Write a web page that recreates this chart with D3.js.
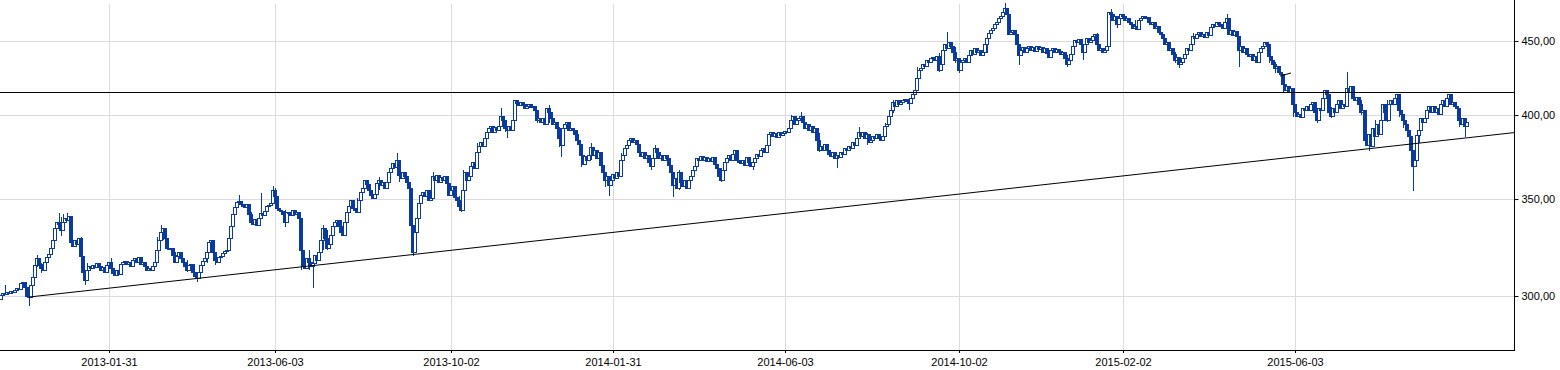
<!DOCTYPE html>
<html>
<head>
<meta charset="utf-8">
<script src="https://cdn.jsdelivr.net/npm/d3@7"></script>
<style>
  body { margin: 0; background: #fff; }
  svg { display: block; }
</style>
</head>
<body>
<svg id="chart" width="1560" height="370"></svg>
<script>
// daily closes, one per trading day (index based x axis)
var closes = [
  300.5,301.4,301.0,301.9,301.4,302.4,301.9,302.9,303.8,303.4,306.3,306.8,304.3,300.0,299.6,
  305.3,309.2,315.2,318.7,315.7,313.7,312.7,316.7,319.2,320.7,323.8,327.9,334.3,337.5,336.4,
  333.2,337.5,339.6,338.5,340.7,326.9,324.8,327.9,325.9,329.0,319.7,311.7,307.7,312.7,314.7,
  313.7,315.2,314.2,316.2,314.7,312.7,314.2,311.7,315.2,316.7,313.7,311.2,310.2,312.7,310.7,
  315.7,316.7,317.2,315.7,316.7,314.7,317.7,318.7,316.7,319.2,315.7,316.7,314.7,312.7,313.7,
  312.7,314.7,316.7,322.8,327.9,332.1,334.3,329.0,323.8,323.3,323.8,320.2,316.7,319.7,321.8,
  318.7,316.7,314.7,312.7,315.2,315.7,311.7,309.7,308.7,311.7,315.2,317.2,318.7,321.8,326.9,
  327.9,321.8,317.7,316.7,319.2,319.7,321.3,322.3,322.8,329.0,335.4,341.8,345.6,348.4,348.9,
  347.2,346.1,345.6,347.2,341.8,337.5,336.4,339.0,335.9,339.6,342.3,341.3,343.4,346.1,346.7,
  347.8,355.1,351.7,345.1,344.0,343.4,341.8,337.5,342.9,342.3,341.3,344.0,341.8,342.9,339.6,
  322.8,314.7,313.7,318.7,316.7,314.7,316.2,320.2,317.7,321.8,327.9,334.3,329.0,323.8,325.9,
  330.6,335.4,337.5,338.5,335.4,332.1,330.6,337.5,342.9,346.1,349.5,345.1,344.0,342.9,349.5,354.0,356.2,360.8,358.5,355.1,
  352.3,350.6,352.9,359.1,360.8,357.9,359.6,356.2,359.6,365.3,367.7,370.6,368.3,372.4,363.6,
  362.0,365.3,363.0,359.6,356.2,335.9,321.8,332.1,339.6,347.8,352.3,354.0,351.7,355.1,349.5,
  350.6,363.0,360.8,363.6,359.6,362.5,360.8,363.0,359.1,352.3,355.1,357.4,351.2,349.5,346.1,
  344.0,355.1,365.3,360.8,363.0,368.9,371.2,367.7,377.2,380.8,383.3,380.8,385.7,389.4,391.9,
  393.1,389.4,392.5,390.6,393.1,399.4,396.9,391.9,390.6,393.1,390.6,396.9,409.7,407.7,406.4,
  408.4,407.1,404.5,405.8,407.1,405.1,405.8,403.2,396.9,398.1,395.6,398.1,394.4,404.5,401.9,
  398.1,394.4,395.6,391.9,385.7,381.4,391.9,394.4,395.6,390.6,391.9,390.6,388.1,384.5,382.1,
  375.4,370.1,374.8,372.4,375.4,380.2,375.4,378.4,373.6,377.2,369.5,365.3,360.8,363.0,357.9,
  360.8,364.2,362.0,365.3,363.0,372.4,375.4,379.6,381.4,384.5,385.7,383.3,384.5,382.1,377.2,
  374.8,377.2,373.6,375.4,371.2,368.9,373.6,379.6,377.2,373.6,375.4,372.4,375.4,373.6,369.5,
  365.3,357.9,362.0,356.2,365.3,359.6,357.4,360.8,356.2,360.8,363.0,366.5,368.9,373.6,372.4,
  374.8,372.4,374.2,371.8,373.6,371.8,374.2,370.1,367.7,363.0,360.8,366.5,371.2,373.6,375.4,372.4,376.0,378.4,372.4,371.2,
  370.7,372.4,369.5,374.2,371.2,368.9,371.2,373.6,376.0,374.8,378.4,379.6,377.2,381.4,388.1,
  389.4,386.9,388.7,386.3,389.4,387.5,388.7,390.0,389.4,391.9,396.9,399.4,394.4,396.9,398.1,
  399.4,395.6,391.9,394.4,390.6,393.1,389.4,391.9,384.5,378.4,380.8,378.4,382.1,378.4,376.0,
  374.8,377.2,373.6,375.4,374.2,377.2,376.0,379.6,378.4,380.8,379.6,383.3,381.4,385.7,389.4,
  386.9,389.4,385.7,388.1,383.3,384.5,386.9,385.7,388.1,386.3,384.5,386.9,393.1,394.4,399.4,
  403.2,408.4,405.8,409.7,407.1,408.4,409.7,410.4,409.1,407.7,411.0,413.6,416.3,424.3,429.7,
  431.1,433.9,432.5,436.6,435.2,438.0,438.7,436.6,439.4,429.7,433.9,443.6,447.9,445.0,449.3,
  446.4,442.2,436.6,438.0,429.7,435.2,436.6,438.0,435.2,440.1,443.6,440.8,445.0,442.2,443.6,
  440.1,442.2,447.9,452.2,455.7,457.9,459.3,462.3,463.8,466.8,468.2,471.2,474.2,469.7,455.0,
  456.5,457.9,455.0,447.9,440.1,443.6,445.7,442.2,445.0,446.4,443.6,445.7,442.9,446.4,444.3,
  445.7,442.2,445.0,441.5,438.7,443.6,445.0,442.2,444.3,442.9,440.8,442.2,438.0,433.9,436.6,
  440.8,446.4,450.7,449.3,451.4,447.9,442.2,447.9,452.2,449.3,450.7,453.6,455.0,447.9,443.6,
  445.0,442.2,443.6,446.4,471.2,469.7,465.3,468.2,462.3,466.8,469.7,468.2,465.3,466.8,463.8,
  462.3,459.3,460.8,458.6,465.3,466.8,468.2,466.8,467.5,463.8,462.3,463.8,459.3,460.8,456.5,
  455.0,452.2,447.9,449.3,443.6,445.0,440.8,436.6,438.7,433.9,435.2,438.0,440.8,445.0,443.6,
  447.9,453.6,452.2,455.0,456.5,453.6,455.0,452.9,456.5,454.3,460.1,462.3,460.8,463.8,462.3,
  460.8,459.3,463.8,466.8,455.0,457.9,454.3,457.2,453.6,443.6,446.4,442.2,445.0,440.8,439.4,
  440.8,436.6,439.4,435.2,442.2,445.0,446.4,449.3,447.9,439.4,436.6,433.9,431.1,432.5,428.3,
  427.0,420.3,416.3,418.9,415.0,417.6,407.1,401.9,399.4,400.6,398.7,404.5,403.2,405.8,403.2,
  407.1,408.4,401.9,396.9,404.5,403.2,411.0,416.3,413.6,401.9,399.4,404.5,401.9,407.1,409.7,
  404.5,407.1,405.8,417.6,415.0,418.9,411.0,409.7,411.7,407.1,401.9,403.2,384.5,381.4,388.1,
  380.8,391.9,386.9,394.4,388.1,396.9,407.1,401.9,396.9,407.1,409.7,407.1,411.0,413.6,403.2,
  400.6,396.9,394.4,390.6,386.9,378.4,368.9,372.4,387.5,390.6,398.1,395.6,398.1,403.2,405.8,
  401.9,405.8,401.9,404.5,400.6,407.1,409.7,405.8,411.0,413.6,407.1,408.4,405.8,404.5,396.9,394.4,398.1,393.1,395.6
];
var firstOpen = 298.5;

// [index, high, low] for the shadows that stick out of the bodies
var wicks = [
  [2,305.3,null],[14,null,295.2],[18,320.2,314.2],[20,316.2,311.2],[29,342.3,null],
  [30,340.2,330.1],[31,341.9,null],[33,342.5,null],[40,329.5,317.7],[42,null,305.3],
  [43,316.2,307.7],[55,318.7,311.2],[78,329.5,319.2],[80,335.9,null],[81,null,327.9],
  [87,321.8,316.2],[93,317.7,311.7],[98,null,306.8],[103,322.8,316.2],[107,321.3,315.2],
  [115,337.5,329.5],[119,352.3,null],[125,342.9,335.9],[130,353.4,null],[136,357.4,null],
  [137,356.2,345.6],[142,344.0,334.8],[150,336.9,312.7],[154,322.8,312.7],[156,null,303.8],
  [161,335.9,322.8],[163,333.2,322.8],[170,338.5,331.6],[178,350.6,343.0],[189,362.4,355.1],
  [198,376.6,null],[199,366.5,359.6],[206,null,319.7],[208,341.3,333.2],[216,365.3,359.6],
  [224,357.4,351.7],[229,351.7,344.0],[230,null,342.9],[231,366.5,null],[238,382.6,372.4],
  [250,404.8,null],[252,396.9,389.4],[253,null,385.7],[268,403.2,395.0],[274,406.4,395.0],
  [279,392.5,380.2],[280,null,374.2],[288,390.6,381.4],[290,381.4,368.3],[295,382.6,372.4],
  [302,364.8,356.8],[304,null,351.7],[310,376.6,366.5],[325,null,366.5],[327,381.4,374.2],
  [334,372.4,364.8],[336,null,351.2],[339,366.5,355.1],[360,367.7,359.6],[362,373.6,367.7],
  [376,null,366.5],[383,382.6,376.6],[395,400.0,393.7],[400,402.0,null],[409,388.7,377.2],
  [418,null,367.7],[429,392.5,385.7],[433,388.7,381.4],[442,395.0,386.3],[446,409.7,401.3],
  [454,null,403.2],[458,431.8,419.0],[469,441.5,428.3],[473,456.5,null],[477,445.7,434.6],
  [479,null,427.7],[493,452.2,441.5],[502,478.0,null],[509,null,433.2],[533,440.1,431.8],
  [541,null,436.6],[548,455.7,445.7],[555,473.4,null],[558,null,459.3],[567,465.3,457.9],
  [587,442.2,434.6],[589,null,431.1],[596,455.7,447.2],[613,469.7,null],[619,null,431.8],
  [634,441.5,434.6],[637,435.2,427.7],[641,425.6,415.0],[646,409.7,398.7],[658,403.2,395.0],
  [665,405.1,398.1],[673,428.3,null],[680,409.7,400.0],[684,null,377.8],[687,396.9,386.3],
  [693,409.7,395.6],[699,413.0,398.7],[701,400.0,391.9],[706,null,354.6],[709,390.6,382.6],
  [729,398.7,392.5],[732,null,386.3]
];

var tickIndex = [54, 137, 225, 306, 392, 479, 561, 647];
var tickLabels = ["2013-01-31", "2013-06-03", "2013-10-02", "2014-01-31",
                  "2014-06-03", "2014-10-02", "2015-02-02", "2015-06-03"];
var yTicks = [300, 350, 400, 450];

var resistance = 415;
var trendLine = [[14, 299.5], [756.5, 389.0]];
var shortLine = [[639.5, 425.6], [645, 427.7]];

var blue = "#0a3a9f";
var gridColor = "#dcdcdc";
var font = "'Liberation Sans', Arial, sans-serif";

var plot = {left: 0, right: 1514, top: 4, bottom: 350};

var svg = d3.select("#chart");

var x = d3.scaleLinear()
    .domain([-0.5, 756.5])
    .range([plot.left, plot.right]);

var y = d3.scaleLog()
    .domain([275.3, 477.3])
    .range([plot.bottom, plot.top]);

var fmt = d3.formatLocale({decimal: ",", thousands: " ", grouping: [3], currency: ["", ""]}).format(".2f");

// grid
svg.append("g").selectAll("line")
    .data(tickIndex)
    .enter().append("line")
    .attr("x1", d => Math.round(x(d)) + 0.5)
    .attr("x2", d => Math.round(x(d)) + 0.5)
    .attr("y1", plot.top)
    .attr("y2", plot.bottom)
    .attr("stroke", gridColor);

svg.append("g").selectAll("line")
    .data(yTicks)
    .enter().append("line")
    .attr("x1", plot.left)
    .attr("x2", plot.right)
    .attr("y1", d => Math.round(y(d)) + 0.5)
    .attr("y2", d => Math.round(y(d)) + 0.5)
    .attr("stroke", gridColor);

// candles
var candles = closes.map(function(c, i) {
    var o = i === 0 ? firstOpen : closes[i - 1];
    return {i: i, o: o, c: c, h: Math.max(o, c), l: Math.min(o, c)};
});
wicks.forEach(function(w) {
    var d = candles[w[0]];
    if (w[1] != null) d.h = Math.max(d.h, w[1]);
    if (w[2] != null) d.l = Math.min(d.l, w[2]);
});

var cg = svg.append("g").selectAll("g")
    .data(candles)
    .enter().append("g");

cg.filter(d => d.h > Math.max(d.o, d.c) || d.l < Math.min(d.o, d.c))
    .append("line")
    .attr("x1", d => Math.round(x(d.i)) + 0.5)
    .attr("x2", d => Math.round(x(d.i)) + 0.5)
    .attr("y1", d => Math.round(y(d.h)))
    .attr("y2", d => Math.round(y(d.l)))
    .attr("stroke", blue);

cg.append("rect")
    .attr("x", d => Math.round(x(d.i)) - 1.5)
    .attr("width", 3)
    .attr("y", d => Math.round(y(Math.max(d.o, d.c))) + 0.5)
    .attr("height", d => Math.max(1, Math.round(y(Math.min(d.o, d.c))) - Math.round(y(Math.max(d.o, d.c)))))
    .attr("fill", d => d.c >= d.o ? "#fff" : blue)
    .attr("stroke", blue);

// support / resistance lines
svg.append("line")
    .attr("x1", plot.left)
    .attr("x2", plot.right)
    .attr("y1", Math.round(y(resistance)) + 0.5)
    .attr("y2", Math.round(y(resistance)) + 0.5)
    .attr("stroke", "#000");

svg.append("line")
    .attr("x1", x(trendLine[0][0]))
    .attr("y1", y(trendLine[0][1]))
    .attr("x2", x(trendLine[1][0]))
    .attr("y2", y(trendLine[1][1]))
    .attr("stroke", "#000");

svg.append("line")
    .attr("x1", x(shortLine[0][0]))
    .attr("y1", y(shortLine[0][1]))
    .attr("x2", x(shortLine[1][0]))
    .attr("y2", y(shortLine[1][1]))
    .attr("stroke", "#000");

// axes
var yAxis = d3.axisRight(y)
    .tickValues(yTicks)
    .tickFormat(fmt)
    .tickSize(4)
    .tickPadding(3);

svg.append("g")
    .attr("transform", "translate(" + (plot.right + 0.5) + ",0)")
    .call(yAxis)
    .call(g => g.select(".domain").remove())
    .call(g => g.selectAll("line").attr("stroke", "#000"))
    .call(g => g.selectAll("text").attr("fill", "#000"))
    .attr("font-family", font)
    .attr("font-size", 11);

var xAxis = d3.axisBottom(x)
    .tickValues(tickIndex)
    .tickFormat((d, k) => tickLabels[k])
    .tickSize(3)
    .tickPadding(5);

svg.append("g")
    .attr("transform", "translate(0," + plot.bottom + ")")
    .call(xAxis)
    .call(g => g.select(".domain").remove())
    .call(g => g.selectAll("line").attr("stroke", "#000"))
    .call(g => g.selectAll("text").attr("fill", "#000"))
    .attr("font-family", font)
    .attr("font-size", 11);

svg.append("line")
    .attr("x1", plot.right + 0.5)
    .attr("x2", plot.right + 0.5)
    .attr("y1", 0)
    .attr("y2", plot.bottom + 1)
    .attr("stroke", "#000");

svg.append("line")
    .attr("x1", plot.left)
    .attr("x2", plot.right + 1)
    .attr("y1", plot.bottom + 0.5)
    .attr("y2", plot.bottom + 0.5)
    .attr("stroke", "#000");
</script>
</body>
</html>
